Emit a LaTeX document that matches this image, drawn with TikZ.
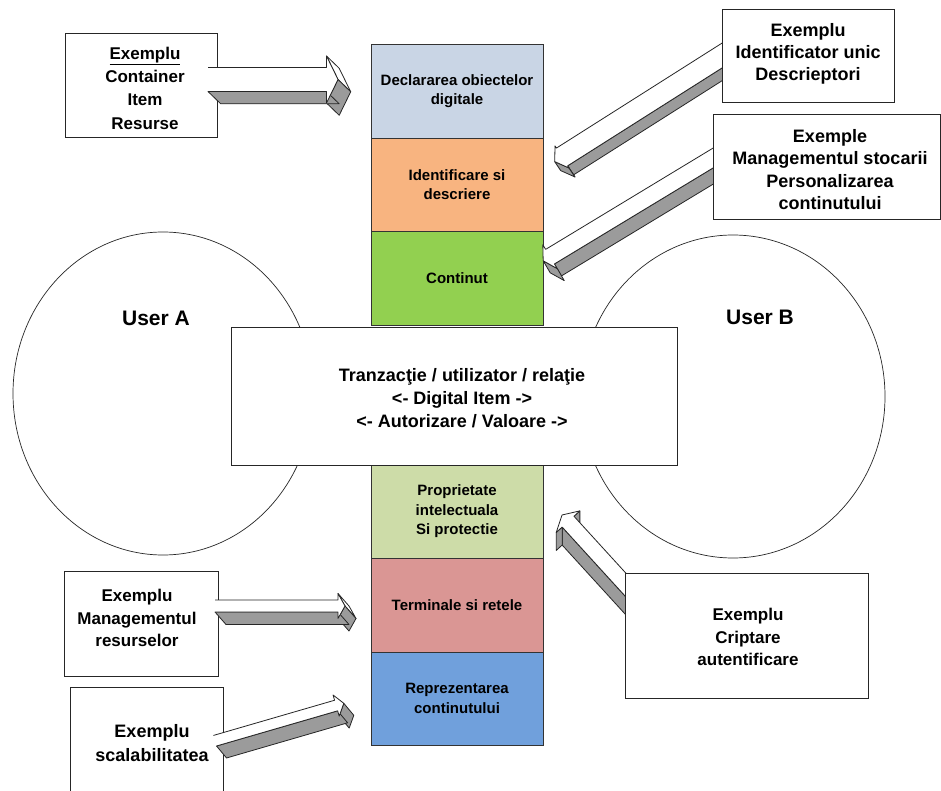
\documentclass[tikz,border=0pt]{standalone}
\usepackage{fontspec}
\setmainfont{Liberation Sans}
\usetikzlibrary{calc,shapes.geometric}

\definecolor{declblue}{RGB}{201,213,229}
\definecolor{idorange}{RGB}{248,180,128}
\definecolor{contgreen}{RGB}{146,208,80}
\definecolor{propgreen}{RGB}{205,220,168}
\definecolor{termred}{RGB}{218,150,148}
\definecolor{reprblue}{RGB}{112,160,220}
\definecolor{arrowgrey}{RGB}{155,155,155}

\tikzset{
  layer/.style={draw=black!80, line width=0.8pt, minimum width=172pt, inner sep=0pt,
    align=center, font=\fontsize{15}{19.5}\selectfont\bfseries},
  infobox/.style={draw=black!85, fill=white, line width=0.8pt, inner sep=0pt},
  infotext/.style={align=center, inner sep=0pt, font=\fontsize{17}{22.5}\selectfont\bfseries},
  bigtext/.style={infotext, font=\fontsize{18}{22.5}\selectfont\bfseries},
  user/.style={draw=black!85, line width=0.7pt, ellipse, inner sep=0pt},
  usertext/.style={font=\fontsize{21}{25}\selectfont\bfseries, inner sep=0pt},
  arrowline/.style={draw=black!85, line width=0.8pt, line join=round},
}

% Extruded block arrow: #1 tail, #2 tip, #3 shaft half width, #4 head half width,
% #5 head length, (#6,#7) extrusion offset. Only the side faces turned towards
% the viewer are drawn; faces looking downwards are shaded grey.
\newcommand\blockarrow[7]{%
  \coordinate (ba-hb) at ($(#2)!#5pt!(#1)$);
  \coordinate (ba-1) at ($(#1)!#3pt!90:(#2)$);
  \coordinate (ba-2) at ($(ba-hb)!#3pt!90:(#2)$);
  \coordinate (ba-3) at ($(ba-hb)!#4pt!90:(#2)$);
  \coordinate (ba-4) at (#2);
  \coordinate (ba-5) at ($(ba-hb)!#4pt!-90:(#2)$);
  \coordinate (ba-6) at ($(ba-hb)!#3pt!-90:(#2)$);
  \coordinate (ba-7) at ($(#1)!#3pt!-90:(#2)$);
  \foreach \i/\j in {1/2,2/3,3/4,4/5,5/6,6/7}{%
    \path let \p1=($(ba-\j)-(ba-\i)$) in \pgfextra{%
      \pgfmathsetmacro\bafacing{(\x1)*(0-(#7))-(\y1)*(#6)}%
      \pgfmathsetmacro\baex{\x1}%
      \xdef\bafacing{\bafacing}\xdef\baex{\baex}};
    \ifdim\bafacing pt>0pt
      \ifdim\baex pt<0pt \def\bafill{arrowgrey}\else\def\bafill{white}\fi
      \filldraw[arrowline, fill=\bafill] (ba-\i) -- (ba-\j) -- ($(ba-\j)+(#6,#7)$)
        -- ($(ba-\i)+(#6,#7)$) -- cycle;
    \fi
  }%
  \fill[white] (ba-1)--(ba-2)--(ba-3)--(ba-4)--(ba-5)--(ba-6)--(ba-7)--cycle;
  \draw[arrowline] (ba-7)--(ba-6)--(ba-5)--(ba-4)--(ba-3)--(ba-2)--(ba-1);
}

\begin{document}
\begin{tikzpicture}[x=1pt,y=-1pt]
\useasboundingbox (0,0) rectangle (941,791);
\fill[white] (0,0) rectangle (941,791);

% the two users
\node[user, minimum width=300pt, minimum height=323pt] (userA) at (163,393.5) {};
\node[user, minimum width=304pt, minimum height=323pt] (userB) at (733,396.5) {};

% layer stack
\node[layer, fill=declblue, minimum height=94pt] (decl) at (457,91) {Declararea obiectelor\\digitale};
\node[layer, fill=idorange, minimum height=93pt] (ident) at (457,184.5) {Identificare si\\descriere};
\node[layer, fill=contgreen, minimum height=94pt] (cont) at (457,278) {Continut};
\node[layer, fill=propgreen, minimum height=93pt] (prop) at (457,511.5) {Proprietate\\intelectuala\\Si protectie};
\node[layer, fill=termred, minimum height=94pt] (term) at (457,605) {Terminale si retele};
\node[layer, fill=reprblue, minimum height=93pt] (repr) at (457,698.5) {Reprezentarea\\continutului};

% transaction box
\node[infobox, minimum width=446pt, minimum height=138pt] (tranz) at (454,396) {};
\node[infotext, font=\fontsize{18}{23}\selectfont\bfseries] (tranztxt) at (462,398.5)
  {Tranzacţie / utilizator / relaţie\\<- Digital Item ->\\<- Autorizare / Valoare ->};

% arrows whose tails run under the right-hand boxes
\coordinate (a2t) at (734.7,47.5);  \coordinate (a2h) at (554.7,161.6);
\coordinate (a3t) at (723,152);     \coordinate (a3h) at (543.2,260.8);
\coordinate (a4t) at (645,606);     \coordinate (a4h) at (562,515);
\blockarrow{a2t}{a2h}{10.5}{13}{8.6}{6}{9}
\blockarrow{a3t}{a3h}{8.5}{14}{8}{7}{12}
\blockarrow{a4t}{a4h}{8}{16}{9}{0}{18}

% right-hand example boxes
\node[infobox, minimum width=172pt, minimum height=93pt] (bxB) at (808,55.5) {};
\node[bigtext, font=\fontsize{18}{22}\selectfont\bfseries] (txB) at (808,54) {Exemplu\\Identificator unic\\Descrieptori};
\node[infobox, minimum width=227pt, minimum height=105pt] (bxC) at (826.5,166.5) {};
\node[bigtext] (txC) at (830,169.5) {Exemple\\Managementul stocarii\\Personalizarea\\continutului};
\node[infobox, minimum width=243pt, minimum height=125pt] (bxD) at (746.5,635.5) {};
\node[infotext] (txD) at (748,637) {Exemplu\\Criptare\\autentificare};

% left-hand example boxes
\node[infobox, minimum width=152pt, minimum height=104pt] (bxA) at (141,85) {};
\node[infotext, font=\fontsize{17}{23.3}\selectfont\bfseries] (txA) at (145,88) {\underline{Exemplu}\\Container\\Item\\Resurse};
\node[infobox, minimum width=154pt, minimum height=105pt] (bxE) at (141,623.5) {};
\node[infotext] (txE) at (137,618) {Exemplu\\Managementul\\resurselor};
\node[infobox, minimum width=153pt, minimum height=120pt] (bxF) at (146.5,747) {};
\node[bigtext, font=\fontsize{18}{24}\selectfont\bfseries] (txF) at (152,743) {Exemplu\\scalabilitatea};

% arrows drawn over the left-hand boxes
\coordinate (a1t) at (208,79.5);    \coordinate (a1h) at (338,79.5);
\coordinate (a5t) at (215,606);     \coordinate (a5h) at (345,606);
\coordinate (a6t) at (215,740.7);   \coordinate (a6h) at (343.8,703.3);
\blockarrow{a1t}{a1h}{12}{23.5}{11.5}{12.7}{12.3}
\blockarrow{a5t}{a5h}{6}{12.5}{7}{11}{12.5}
\blockarrow{a6t}{a6h}{5.5}{11}{8}{10}{12}

% user labels
\node[usertext] (labA) at (156,318) {User A};
\node[usertext] (labB) at (760,317) {User B};
\end{tikzpicture}
\end{document}
